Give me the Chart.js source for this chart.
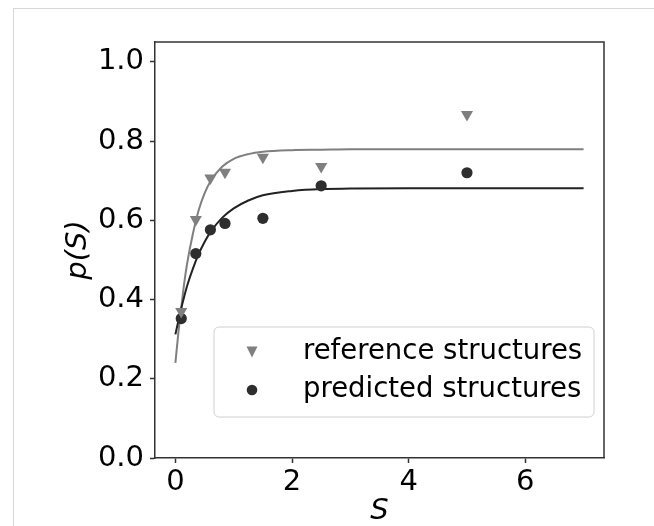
<!DOCTYPE html>
<html><head><meta charset="utf-8">
<script src="https://cdn.jsdelivr.net/npm/chart.js@4"></script>
<style>
html,body{margin:0;padding:0;background:#fff;}
#wrap{position:relative;width:654px;height:526px;overflow:hidden;background:#fff;}
#frame{position:absolute;left:13px;top:8px;width:700px;height:600px;border:1px solid #d6d6d6;box-sizing:border-box;}
canvas{position:absolute;left:0;top:0;}
</style></head><body>
<div id="wrap"><div id="frame"></div><canvas id="c" width="654" height="526"></canvas></div>
<script>
// Measured points
const sValues = [0.1, 0.35, 0.6, 0.85, 1.5, 2.5, 5];
const referencePoints = [0.370, 0.602, 0.707, 0.721, 0.759, 0.736, 0.867];
const predictedPoints = [0.352, 0.516, 0.576, 0.592, 0.605, 0.687, 0.720];
// Fitted curves
const curveS = [0, 0.05, 0.1, 0.15, 0.2, 0.3, 0.4, 0.5, 0.6, 0.8, 1.0, 1.25, 1.5, 2, 2.5, 3, 4, 5, 6, 7];
const referenceFit = [0.240, 0.315, 0.378, 0.440, 0.490, 0.566, 0.626, 0.668, 0.698, 0.735, 0.755, 0.767, 0.773, 0.777, 0.778, 0.779, 0.779, 0.779, 0.779, 0.779];
const predictedFit = [0.312, 0.346, 0.378, 0.407, 0.434, 0.478, 0.515, 0.545, 0.570, 0.606, 0.630, 0.650, 0.663, 0.674, 0.679, 0.680, 0.681, 0.681, 0.681, 0.681];
const xTicks = [0, 2, 4, 6];
const yTicks = [0.0, 0.2, 0.4, 0.6, 0.8, 1.0];
const seriesLabels = ['reference structures', 'predicted structures'];

const GRAY = '#7f7f7f', DARK = '#2e2e2e', AXIS = '#333333';
const FONT = 'DejaVu Sans';

const pts = (xs, ys) => xs.map((x, i) => ({x, y: ys[i]}));

const framePlugin = {
  id: 'framePlugin',
  afterDraw(chart) {
    const {ctx, chartArea: a} = chart;
    ctx.save();
    ctx.strokeStyle = AXIS;
    ctx.lineWidth = 1.5;
    ctx.beginPath();
    ctx.moveTo(a.left, a.top);
    ctx.lineTo(a.right, a.top);
    ctx.lineTo(a.right, a.bottom);
    ctx.stroke();
    // legend
    const lx = a.left + 59, ly = a.top + 285, lw = 380, lh = 90, r = 5;
    ctx.fillStyle = 'rgba(255,255,255,0.8)';
    ctx.strokeStyle = '#d0d0d0';
    ctx.lineWidth = 1;
    ctx.beginPath();
    ctx.moveTo(lx + r, ly);
    ctx.arcTo(lx + lw, ly, lx + lw, ly + lh, r);
    ctx.arcTo(lx + lw, ly + lh, lx, ly + lh, r);
    ctx.arcTo(lx, ly + lh, lx, ly, r);
    ctx.arcTo(lx, ly, lx + lw, ly, r);
    ctx.closePath();
    ctx.fill();
    ctx.stroke();
    const rows = [ly + 25, ly + 63];
    const mx = lx + 38, tx = lx + 89;
    ctx.fillStyle = GRAY;
    ctx.beginPath();
    ctx.moveTo(mx - 5.5, rows[0] - 5.5);
    ctx.lineTo(mx + 5.5, rows[0] - 5.5);
    ctx.lineTo(mx, rows[0] + 5.5);
    ctx.closePath();
    ctx.fill();
    ctx.fillStyle = DARK;
    ctx.beginPath();
    ctx.arc(mx, rows[1], 5.3, 0, Math.PI * 2);
    ctx.fill();
    ctx.fillStyle = '#000';
    ctx.font = '27.5px "' + FONT + '"';
    ctx.textBaseline = 'middle';
    ctx.textAlign = 'left';
    ctx.fillText(seriesLabels[0], tx, rows[0]);
    ctx.fillText(seriesLabels[1], tx, rows[1]);
    ctx.restore();
  }
};

new Chart(document.getElementById('c'), {
  type: 'scatter',
  data: {
    datasets: [
      {label: seriesLabels[0], data: pts(sValues, referencePoints), pointStyle: 'triangle', rotation: 180,
       pointRadius: 7, pointHoverRadius: 7, backgroundColor: GRAY, borderColor: GRAY, borderWidth: 0, order: 0},
      {label: seriesLabels[1], data: pts(sValues, predictedPoints), pointStyle: 'circle',
       pointRadius: 5.6, pointHoverRadius: 5.6, backgroundColor: DARK, borderColor: DARK, borderWidth: 0, order: 0},
      {label: 'reference fit', data: pts(curveS, referenceFit), showLine: true, pointRadius: 0, borderColor: GRAY,
       borderWidth: 2, cubicInterpolationMode: 'monotone', fill: false, order: 2},
      {label: 'predicted fit', data: pts(curveS, predictedFit), showLine: true, pointRadius: 0, borderColor: '#222',
       borderWidth: 2, cubicInterpolationMode: 'monotone', fill: false, order: 1}
    ]
  },
  options: {
    responsive: false,
    animation: false,
    events: [],
    layout: {padding: {left: 0, top: 42, right: 50, bottom: 0}},
    plugins: {legend: {display: false}, tooltip: {enabled: false}},
    scales: {
      x: {
        type: 'linear', min: -0.35, max: 7.35,
        afterFit(s) { s.height = 68; },
        afterBuildTicks(s) { s.ticks = xTicks.map(v => ({value: v})); },
        border: {display: true, color: AXIS, width: 1.5},
        grid: {display: true, drawOnChartArea: false, drawTicks: true, tickLength: 5, tickWidth: 1.5, tickColor: AXIS},
        ticks: {padding: 2, color: '#000', font: {family: FONT, size: 29}, maxRotation: 0,
                callback: v => String(v)},
        title: {display: true, text: 'S', color: '#000',
                font: {family: FONT, size: 29, style: 'italic', lineHeight: 1}, padding: {top: 0, bottom: 0}}
      },
      y: {
        type: 'linear', min: 0, max: 1.05,
        afterFit(s) { s.width = 155; },
        afterBuildTicks(s) { s.ticks = yTicks.map(v => ({value: v})); },
        border: {display: true, color: AXIS, width: 1.5},
        grid: {display: true, drawOnChartArea: false, drawTicks: true, tickLength: 5, tickWidth: 1.5, tickColor: AXIS},
        ticks: {padding: 6, color: '#000', font: {family: FONT, size: 29},
                callback: v => Number(v).toFixed(1)},
        title: {display: true, text: 'p(S)', color: '#000',
                font: {family: FONT, size: 29, style: 'italic', lineHeight: 1}, padding: {top: 64, bottom: 0}}
      }
    }
  },
  plugins: [framePlugin]
});
</script>
</body></html>
